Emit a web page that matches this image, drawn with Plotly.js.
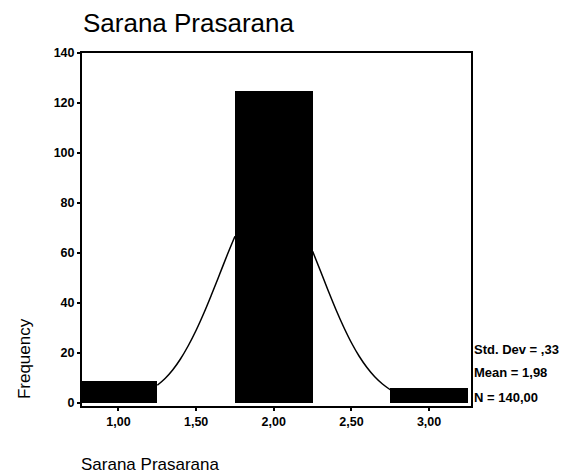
<!DOCTYPE html>
<html>
<head>
<meta charset="utf-8">
<script src="https://cdn.plot.ly/plotly-3.0.1.min.js"></script>
<style>html,body{margin:0;padding:0;background:#fff;}#chart{width:566px;height:475px;}</style>
</head>
<body>
<div id="chart"></div>
<script>
// Histogram bins (centers) and frequencies
const binCenters = [1, 2, 3];
const frequencies = [9, 125, 6];

// Normal curve (visible parts between bars)
const curveLeftX  = [1.25, 1.30, 1.35, 1.40, 1.45, 1.50, 1.55, 1.60, 1.65, 1.70, 1.75];
const curveLeftY  = [7.1, 9.8, 13.3, 17.7, 23.0, 29.1, 36.0, 43.5, 51.3, 59.2, 66.7];
const curveRightX = [2.25, 2.30, 2.35, 2.40, 2.45, 2.50, 2.55, 2.60, 2.65, 2.70, 2.75];
const curveRightY = [60.7, 52.9, 45.0, 37.4, 30.4, 24.1, 18.7, 14.2, 10.5, 7.6, 5.3];

const xTickVals = [1.0, 1.5, 2.0, 2.5, 3.0];
const xTickText = ["1,00", "1,50", "2,00", "2,50", "3,00"];
const yTickVals = [0, 20, 40, 60, 80, 100, 120, 140];

const statsLines = ["Std. Dev = ,33", "Mean = 1,98", "N = 140,00"];

const font = "Liberation Sans, Arial, sans-serif";

const traces = [
  {type: "scatter", mode: "lines", x: curveLeftX, y: curveLeftY,
   line: {color: "#000", width: 1.5, shape: "spline"}, hoverinfo: "skip", showlegend: false},
  {type: "scatter", mode: "lines", x: curveRightX, y: curveRightY,
   line: {color: "#000", width: 1.5, shape: "spline"}, hoverinfo: "skip", showlegend: false},
  {type: "bar", x: binCenters, y: frequencies, width: 0.5,
   marker: {color: "#000", line: {width: 0}}, showlegend: false}
];

const statsY = [0.159, 0.096, 0.025];
const annotations = statsLines.map((t, i) => ({
  text: "<b>" + t + "</b>", xref: "paper", yref: "paper", x: 1, y: statsY[i],
  xanchor: "left", yanchor: "middle", xshift: 1, showarrow: false,
  font: {family: font, size: 13, color: "#000"}
}));
annotations.push({
  text: "Sarana Prasarana", xref: "paper", yref: "paper", x: -0.008, y: -0.167,
  xanchor: "left", yanchor: "middle", showarrow: false,
  font: {family: font, size: 17, color: "#000"}
});
annotations.push({
  text: "Frequency", xref: "paper", yref: "paper", x: -0.149, y: 0.133,
  xanchor: "center", yanchor: "middle", textangle: -90, showarrow: false,
  font: {family: font, size: 17, color: "#000"}
});

const layout = {
  width: 566, height: 475,
  margin: {l: 82, r: 95, t: 53, b: 69},
  paper_bgcolor: "#fff", plot_bgcolor: "#fff",
  title: {text: "Sarana Prasarana", xref: "container", yref: "container",
          x: 0.1466, xanchor: "left", y: 0.952, yanchor: "middle",
          font: {family: font, size: 26, color: "#000"}},
  bargap: 0,
  xaxis: {range: [0.765, 3.27], tickvals: xTickVals, ticktext: xTickText,
          showgrid: false, zeroline: false, showline: true, linecolor: "#000", linewidth: 2,
          mirror: true, ticks: "outside", ticklen: 3, tickwidth: 2, tickcolor: "#000",
          tickfont: {family: font, size: 12.5, color: "#000", weight: "bold"}},
  yaxis: {range: [-1.2, 140], tickvals: yTickVals,
          showgrid: false, zeroline: false, showline: true, linecolor: "#000", linewidth: 2,
          mirror: true, ticks: "outside", ticklen: 3, tickwidth: 2, tickcolor: "#000",
          tickfont: {family: font, size: 12.5, color: "#000", weight: "bold"}},
  annotations: annotations
};

Plotly.newPlot("chart", traces, layout, {displayModeBar: false, staticPlot: true});
</script>
</body>
</html>
